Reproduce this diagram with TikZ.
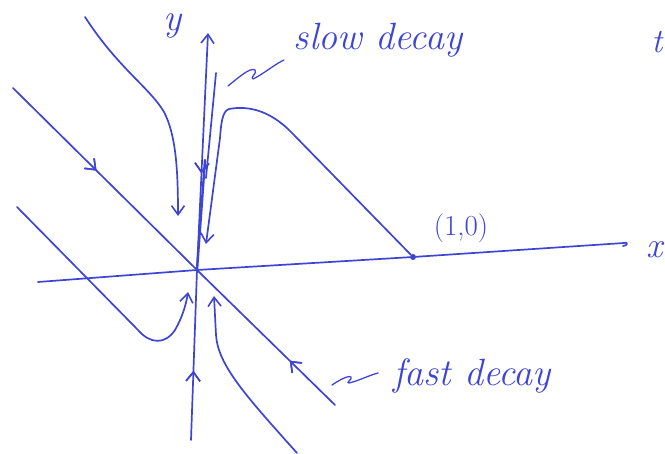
\documentclass[tikz,border=0pt]{standalone}
\usetikzlibrary{arrows.meta,decorations.markings}
\definecolor{ink}{RGB}{62,68,212}
\begin{document}
\begin{tikzpicture}[x=1pt,y=-1pt,line cap=round,line join=round,
  pen/.style={draw=ink,line width=1.7pt},
  barb/.style={-{Straight Barb[length=9pt,width=13pt,line width=1.6pt]}},
  fwd/.style={postaction={decorate},decoration={markings,mark=at position #1 with {\arrow[ink,line width=1.6pt]{Straight Barb[length=9pt,width=14pt]}}}},
  bwd/.style={postaction={decorate},decoration={markings,mark=at position #1 with {\arrowreversed[ink,line width=1.6pt]{Straight Barb[length=9pt,width=14pt]}}}},
  lbl/.style={text=ink,font=\itshape\fontsize{38}{40}\selectfont,inner sep=0pt}]
\useasboundingbox (0,0) rectangle (665,454);
% key points
\coordinate (O) at (197,270);
\coordinate (xs) at (38,282);
\coordinate (xe) at (624,243);
\coordinate (ybot) at (191,440);
\coordinate (ytop) at (208,33);
\coordinate (ds) at (13,88);
\coordinate (de) at (335,405);
\node[circle,fill=ink,inner sep=0pt,minimum size=6pt] (P) at (413,257) {};
% labels
\node[lbl] (ylab) at (173,26) {y};
\node[lbl,font=\itshape\fontsize{36}{38}\selectfont] (xlab) at (655,250) {x};
\node[lbl,font=\itshape\fontsize{34}{36}\selectfont] (tlab) at (657,42) {t};
\node[lbl] (slow) at (378,40) {slow decay};
\node[lbl,font=\fontsize{29}{31}\selectfont] (pt) at (461,228) {(1,0)};
\node[lbl] (fast) at (472,376) {fast decay};
% x axis
\draw[pen] (xs) -- (O) -- (P) -- (xe) .. controls (628,241) and (628,246) .. (623,246);
% y axis (slow eigendirection)
\draw[pen,barb,fwd=0.17,bwd=0.655] (ybot) -- (O) -- (ytop);
\draw[pen,line width=2.4pt] (O) -- (205,160);
% fast eigendirection
\draw[pen,fwd=0.26,bwd=0.86] (ds) -- (O) -- (de);
% trajectories
\coordinate (c1s) at (85,17);
\coordinate (c1e) at (178,216);
\draw[pen,barb] (c1s) .. controls (118,68) and (150,88) .. (164,112)
  .. controls (176,135) and (178,170) .. (c1e);
\coordinate (c2e) at (206,244);
\draw[pen,barb] (P) -- (292,133) .. controls (268,108) and (245,106) .. (229,109)
  .. controls (222,111) and (221,125) .. (220,138) -- (c2e);
\coordinate (c3s) at (216,73);
\coordinate (c3e) at (206,178);
\draw[pen] (c3s) -- (c3e);
\coordinate (c4s) at (17,207);
\coordinate (c4e) at (188,292);
\draw[pen,barb] (c4s) -- (138,330) .. controls (150,344) and (165,345) .. (175,330)
  .. controls (182,318) and (186,305) .. (c4e);
\coordinate (c5s) at (297,453);
\coordinate (c5e) at (214,296);
\draw[pen,barb] (c5s) .. controls (245,395) and (218,365) .. (216,335) -- (c5e);
% squiggles pointing to labels
\coordinate (s1a) at (228,86);
\coordinate (s1b) at (284,60);
\draw[pen,line width=1.3pt] (s1a) .. controls (238,78) and (250,67) .. (255,70)
  .. controls (258,73) and (249,78) .. (253,79) .. controls (262,75) and (275,64) .. (s1b);
\coordinate (s2a) at (332,385);
\coordinate (s2b) at (378,373);
\draw[pen,line width=1.3pt] (s2a) .. controls (338,381) and (348,375) .. (351,377)
  .. controls (353,379) and (345,383) .. (349,383) .. controls (358,381) and (370,375) .. (s2b);
\end{tikzpicture}
\end{document}
